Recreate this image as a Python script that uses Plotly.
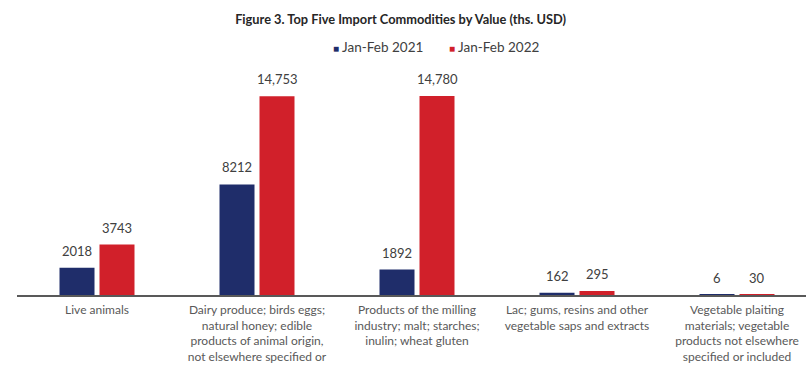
import plotly.graph_objects as go

# Commodity groups (x axis) and import values in thousand USD
categories = [
    "Live animals",
    "Dairy produce; birds eggs;<br>natural honey; edible<br>products of animal origin,<br>not elsewhere specified or",
    "Products of the milling<br>industry; malt; starches;<br>inulin; wheat gluten",
    "Lac; gums, resins and other<br>vegetable saps and extracts",
    "Vegetable plaiting<br>materials; vegetable<br>products not elsewhere<br>specified or included",
]
series_names = ["Jan-Feb 2021", "Jan-Feb 2022"]
values_2021 = [2018, 8212, 1892, 162, 6]
values_2022 = [3743, 14753, 14780, 295, 30]

COLOR_2021 = "#1f2d6a"
COLOR_2022 = "#d1202a"
FONT = "Lato"

W, H = 806, 367
M_L, M_R, M_T, M_B = 17, 0, 70, 72
PLOT_W, PLOT_H = W - M_L - M_R, H - M_T - M_B


def fmt(v):
    # larger values carry a thousands separator
    return f"{v:,}" if v >= 10000 else str(v)


x_idx = list(range(len(categories)))

fig = go.Figure()
fig.add_trace(go.Bar(x=x_idx, y=values_2021, name=series_names[0],
                     marker=dict(color=COLOR_2021, line=dict(width=0))))
fig.add_trace(go.Bar(x=x_idx, y=values_2022, name=series_names[1],
                     marker=dict(color=COLOR_2022, line=dict(width=0))))

# value labels above each bar
for vals, off in ((values_2021, -0.125), (values_2022, 0.125)):
    for i, v in enumerate(vals):
        fig.add_annotation(x=i + off, y=v, xref="x", yref="y", text=fmt(v),
                           showarrow=False, yanchor="bottom", yshift=7,
                           font=dict(family=FONT, size=13, color="#404040"))

# compact legend: small coloured squares followed by the series names
for name, color, xpos in ((series_names[0], COLOR_2021, 331),
                          (series_names[1], COLOR_2022, 447)):
    fig.add_annotation(x=(xpos - M_L) / PLOT_W, y=(H - M_B - 47) / PLOT_H,
                       xref="paper", yref="paper",
                       xanchor="left", yanchor="middle", showarrow=False,
                       text=f"<span style='color:{color};font-size:10px'>■</span> {name}",
                       font=dict(family=FONT, size=13.5, color="#404040"))

y_max = PLOT_H * 14780 / 199

fig.update_layout(
    width=W, height=H,
    margin=dict(l=M_L, r=M_R, t=M_T, b=M_B),
    paper_bgcolor="white", plot_bgcolor="white",
    barmode="group", bargap=0.5, bargroupgap=0.125,
    title=dict(text="<b>Figure 3. Top Five Import Commodities by Value (ths. USD)</b>",
               x=0.497, xanchor="center", y=1 - 20 / H, yanchor="middle",
               font=dict(family=FONT, size=12.8, color="#262626")),
    showlegend=False,
)
fig.update_xaxes(
    range=[-0.5, -0.5 + PLOT_W / 160], tickmode="array", tickvals=x_idx,
    ticktext=categories, showline=True, linecolor="#595959", linewidth=1.5,
    showgrid=False, zeroline=False, ticks="", ticklabelstandoff=3,
    automargin=False,
    tickfont=dict(family=FONT, size=12, color="#595959"),
)
fig.update_yaxes(range=[0, y_max], visible=False, showgrid=False, zeroline=False,
                 automargin=False)

fig.write_html("out.html")
